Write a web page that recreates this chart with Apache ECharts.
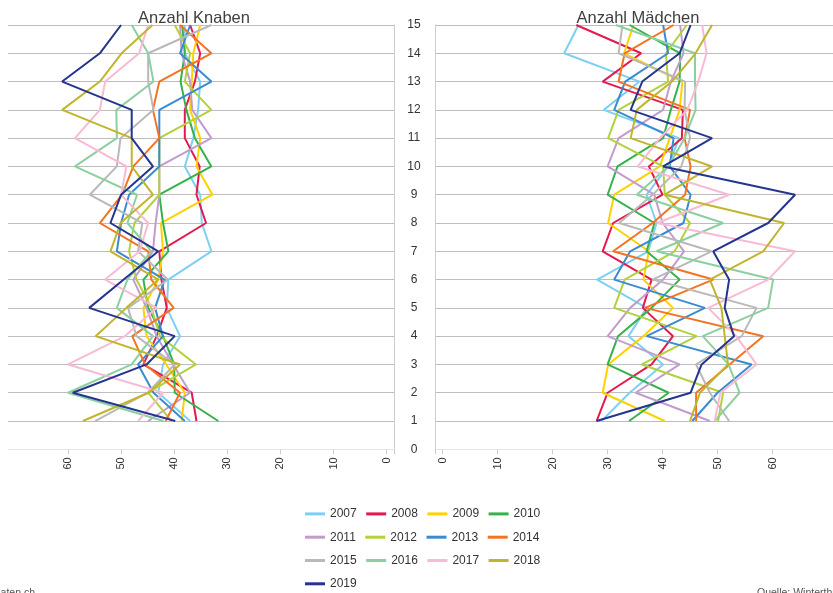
<!DOCTYPE html>
<html><head><meta charset="utf-8">
<script src="https://cdn.jsdelivr.net/npm/echarts@6/dist/echarts.min.js"></script>
<style>html,body{margin:0;padding:0;background:#fff}#c{width:833px;height:593px}</style>
</head><body><div id="c"></div>
<script>
const ages = [1,2,3,4,5,6,7,8,9,10,11,12,13,14,15];
const years = ['2007','2008','2009','2010','2011','2012','2013','2014','2015','2016','2017','2018','2019'];
const xTicks = [0,10,20,30,40,50,60];
const yTicks = [0,1,2,3,4,5,6,7,8,9,10,11,12,13,14,15];

// Anzahl Knaben (age 1..15)
const k2007 = [37.0,43.0,42.1,38.9,41.4,41.1,33.0,34.8,35.1,38.0,36.4,35.5,35.1,38.0,38.0];
const k2008 = [35.8,36.7,45.8,43.3,41.4,42.4,42.8,34.0,35.8,35.2,38.0,38.0,36.1,35.1,37.0];
const k2009 = [38.6,38.0,41.5,45.2,45.8,43.0,42.1,42.5,32.8,35.8,35.1,37.0,36.7,36.4,35.1];
const k2010 = [31.7,39.9,40.0,42.1,44.9,45.8,41.1,42.1,42.8,33.0,36.1,37.7,38.8,38.0,38.5];
const k2011 = [44.9,37.0,40.2,43.3,45.2,47.7,44.0,43.5,42.8,42.8,33.0,36.6,37.0,38.6,38.9];
const k2012 = [40.5,44.9,35.9,42.7,44.3,47.1,48.5,47.5,42.8,42.8,42.8,33.0,38.0,37.0,39.9];
const k2013 = [38.0,43.9,46.8,42.1,43.6,41.8,50.8,50.0,48.5,42.8,42.8,42.8,33.0,38.9,37.0];
const k2014 = [41.6,38.9,45.5,47.9,40.1,44.3,44.9,54.0,49.8,47.7,42.8,44.0,42.8,33.0,38.9];
const k2015 = [54.9,45.0,39.9,47.1,48.7,41.2,46.8,46.0,55.9,50.8,50.1,43.9,44.9,44.9,33.0];
const k2016 = [42.0,60.0,48.0,44.0,50.8,48.8,44.3,48.8,47.0,58.7,50.8,50.9,43.9,44.9,48.0];
const k2017 = [46.8,42.1,60.0,49.3,43.3,53.0,46.5,44.9,50.0,49.0,58.7,54.0,53.0,46.6,44.9];
const k2018 = [57.2,44.8,38.9,54.8,49.0,43.0,52.0,50.1,44.0,48.0,48.0,61.1,54.0,49.9,44.1];
const k2019 = [39.8,59.1,45.2,39.9,56.0,49.5,43.0,52.0,50.0,44.0,48.0,48.0,61.1,54.0,50.0];

// Anzahl Mädchen (age 1..15)
const m2007 = [28.9,34.0,40.1,33.8,37.1,28.1,37.4,38.9,37.1,41.0,43.0,29.3,35.8,22.1,24.7];
const m2008 = [28.0,30.0,38.0,41.9,36.4,38.0,29.1,31.0,40.0,37.5,43.5,43.7,29.1,36.1,24.3];
const m2009 = [40.4,29.1,30.1,36.5,41.9,36.5,37.5,30.1,31.2,39.5,41.3,43.1,43.6,33.0,34.7];
const m2010 = [33.9,41.1,30.0,31.9,38.0,43.1,37.1,38.5,30.0,31.8,40.1,41.5,43.1,43.2,34.0];
const m2011 = [48.6,35.1,43.1,30.0,34.1,40.1,43.9,40.0,38.5,30.0,32.0,40.1,41.5,43.8,43.2];
const m2012 = [50.1,51.0,36.2,46.2,31.2,33.1,42.2,45.0,40.4,40.1,30.1,32.0,41.0,40.6,44.4];
const m2013 = [45.4,50.0,56.2,37.1,47.7,31.2,34.1,43.8,45.1,41.3,42.0,31.2,33.2,41.0,40.1];
const m2014 = [46.1,46.1,52.2,58.3,36.8,49.2,31.0,38.2,44.1,45.1,44.0,45.0,32.0,33.1,42.0];
const m2015 = [52.1,48.6,46.1,54.4,57.1,38.2,48.9,32.1,38.2,43.4,45.0,44.0,44.1,32.0,32.7];
const m2016 = [49.5,54.0,52.0,47.3,59.2,60.1,38.9,51.0,35.3,41.0,44.0,46.0,45.9,45.9,31.5];
const m2017 = [49.5,50.5,57.1,53.4,48.3,59.2,64.1,39.0,52.1,35.5,39.5,44.5,46.5,48.0,47.2];
const m2018 = [45.0,46.8,51.9,51.3,50.7,48.6,58.3,62.1,40.4,49.0,34.2,35.3,41.7,46.0,49.0];
const m2019 = [28.0,45.1,47.1,53.0,51.3,52.1,49.2,59.2,64.1,40.1,49.0,34.2,36.3,43.1,45.1];

const knaben = [k2007,k2008,k2009,k2010,k2011,k2012,k2013,k2014,k2015,k2016,k2017,k2018,k2019];
const maedchen = [m2007,m2008,m2009,m2010,m2011,m2012,m2013,m2014,m2015,m2016,m2017,m2018,m2019];
const colors = ['#7dd0f4','#e5194f','#ffd100','#36b24a','#c39bcd','#b3d13c','#3a8bd0','#f47320','#b9b9b9','#8ccfa0','#f8bad5','#c0b52c','#25358f'];

const series = [];
years.forEach((y, i) => {
  series.push({name: y, type: 'line', xAxisIndex: 0, yAxisIndex: 0, showSymbol: false, symbol: 'none',
    lineStyle: {width: 2, color: colors[i]}, itemStyle: {color: colors[i]}, silent: true,
    data: ages.map((a, j) => [knaben[i][j], a])});
  series.push({name: y, type: 'line', xAxisIndex: 1, yAxisIndex: 1, showSymbol: false, symbol: 'none',
    lineStyle: {width: 2, color: colors[i]}, itemStyle: {color: colors[i]}, silent: true,
    data: ages.map((a, j) => [maedchen[i][j], a])});
});

const FONT = 'Liberation Sans, Arial, sans-serif';
const xCommon = {
  type: 'value',
  splitLine: {show: false},
  axisLine: {show: true, onZero: false, lineStyle: {color: '#e6e6e6', width: 1}},
  axisTick: {show: true, customValues: [-1.4].concat(xTicks), length: 5, lineStyle: {color: '#cccccc'}},
  axisLabel: {customValues: xTicks, rotate: 90, margin: 8, color: '#333', fontSize: 11, fontFamily: FONT}
};
const yCommon = {
  type: 'value', min: 0, max: 15, interval: 1,
  axisLine: {show: true, onZero: false, lineStyle: {color: '#cccccc', width: 1}},
  axisTick: {show: false},
  splitLine: {show: true, showMinLine: false, lineStyle: {color: '#bdbdbd', width: 1}}
};

const chart = echarts.init(document.getElementById('c'), null, {renderer: 'canvas'});
chart.setOption({
  animation: false,
  backgroundColor: '#ffffff',
  textStyle: {fontFamily: FONT},
  title: [
    {text: 'Anzahl Knaben', left: 189, top: 5, textAlign: 'center', textStyle: {fontSize: 16.5, fontWeight: 'normal', color: '#404040', fontFamily: FONT}},
    {text: 'Anzahl Mädchen', left: 633, top: 5, textAlign: 'center', textStyle: {fontSize: 16.5, fontWeight: 'normal', color: '#404040', fontFamily: FONT}}
  ],
  grid: [
    {left: 8, right: 439, top: 25, bottom: 143.7, containLabel: false},
    {left: 435, right: 0, top: 25, bottom: 143.7, containLabel: false}
  ],
  xAxis: [
    Object.assign({}, xCommon, {gridIndex: 0, inverse: true, min: -1.4, max: 71.3}),
    Object.assign({}, xCommon, {gridIndex: 1, min: -1.4, max: 71.0})
  ],
  yAxis: [
    Object.assign({}, yCommon, {gridIndex: 0, position: 'right', axisLabel: {show: false}}),
    Object.assign({}, yCommon, {gridIndex: 1, position: 'left',
      axisLabel: {show: true, align: 'center', margin: 21, color: '#333', fontSize: 12, fontFamily: FONT,
        customValues: yTicks}})
  ],
  legend: {
    data: years,
    left: 305, top: 507, width: 250, padding: 0,
    orient: 'horizontal',
    itemWidth: 20, itemHeight: 14, itemGap: 9.5,
    icon: 'path://M0,0H20V3H0Z',
    textStyle: {fontSize: 12, lineHeight: 13.8, color: '#333', fontFamily: FONT},
    selectedMode: false
  },
  graphic: [
    {type: 'text', left: -7, top: 588, style: {text: 'Daten.ch', fontSize: 10.5, fill: '#555', fontFamily: FONT}},
    {type: 'text', left: 757, top: 588, style: {text: 'Quelle: Winterthur', fontSize: 10.5, fill: '#555', fontFamily: FONT}}
  ],
  series: series
});
</script>
</body></html>
